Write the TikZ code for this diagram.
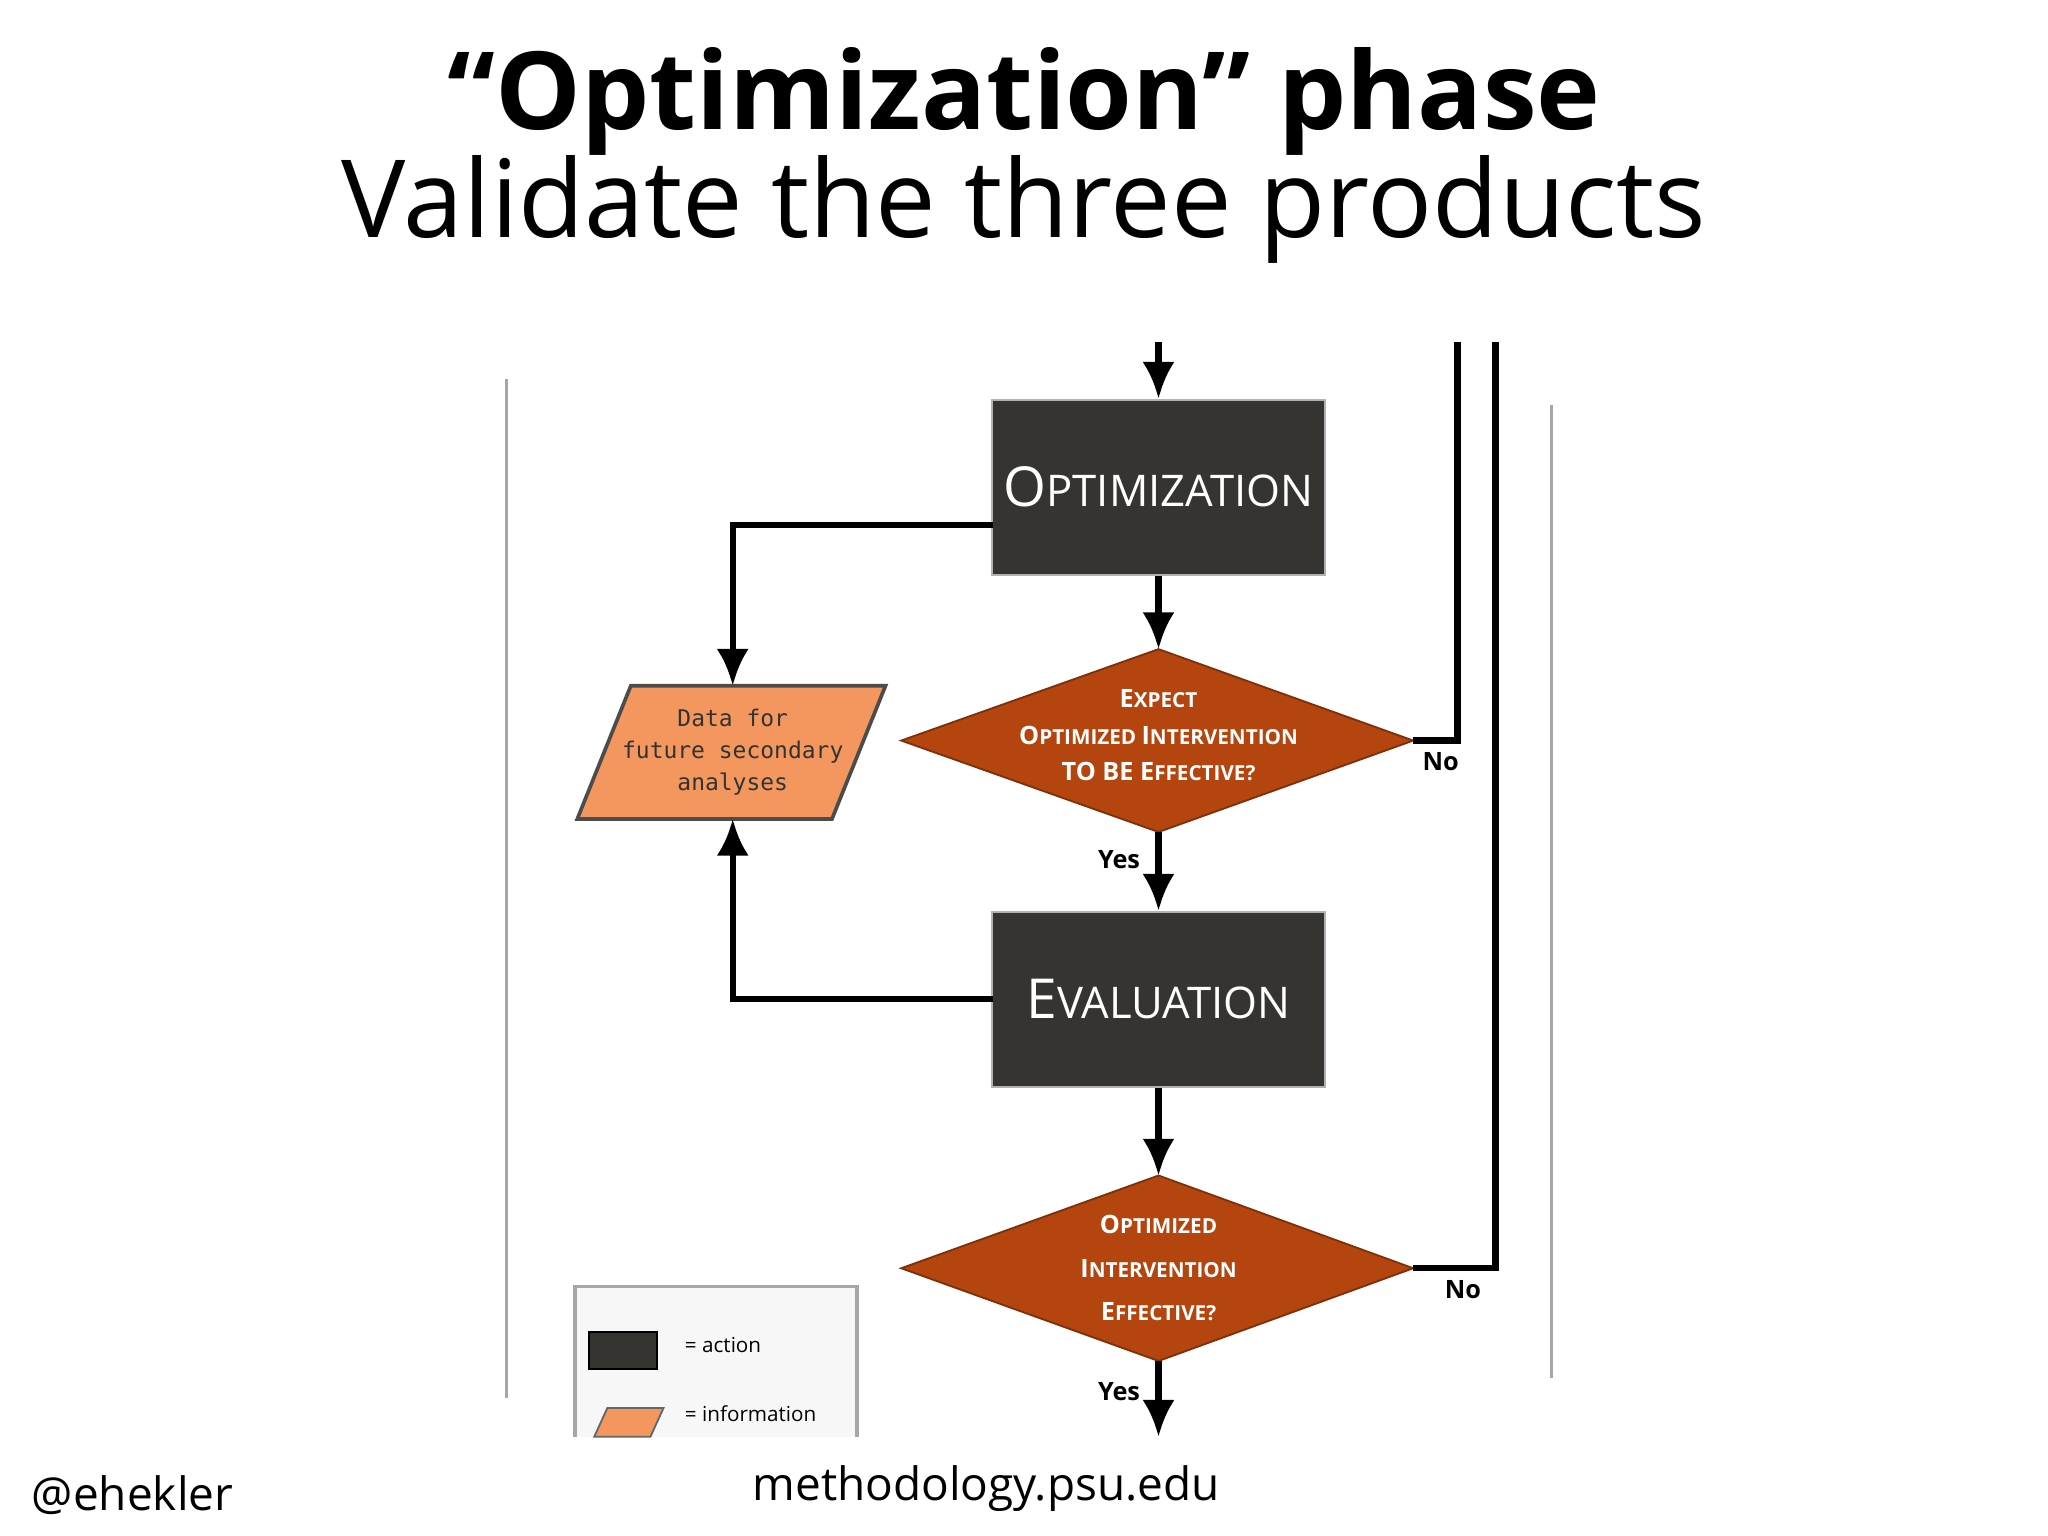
\documentclass[tikz,border=0pt]{standalone}
\usepackage{fontspec}
\setmainfont{Open Sans}
\newfontfamily\monof{DejaVu Sans Mono}
\usetikzlibrary{shapes.geometric,arrows.meta}
\definecolor{actfill}{HTML}{353431}
\definecolor{decfill}{HTML}{B4450E}
\definecolor{infofill}{HTML}{F4975F}
\begin{document}
\begin{tikzpicture}[x=0.01cm,y=-0.01cm,
  action/.style={fill=actfill,draw=gray!60,minimum width=2.55cm,minimum height=1.34cm,inner sep=0pt,text=white,font=\fontsize{12}{14}\selectfont},
  dshape/.style={fill=decfill,draw=decfill!70!black},
  dtext/.style={text=white,align=center,font=\bfseries\fontsize{5.5}{8}\selectfont},
  conn/.style={line width=1.4pt},
  arr/.style={conn,-{Latex[length=8pt,width=7pt]}},
  lbl/.style={font=\bfseries\fontsize{5.5}{6}\selectfont}]
\useasboundingbox (0,0) rectangle (1568,1176);
\fill[white] (0,0) rectangle (1568,1176);
% titles
\node (t1) at (784,78) {\bfseries\fontsize{23.5}{26}\selectfont “Optimization” phase};
\node (t2) at (784,160) {\fontsize{23.5}{26}\selectfont Validate the three products};
% frame
\draw[gray!70,line width=0.6pt] (388,290) -- (388,1070);
\draw[gray!70,line width=0.6pt] (1188,310) -- (1188,1055);
% action nodes
\node[action] (opt) at (887,373) {O\fontsize{9.5}{12}\selectfont PTIMIZATION};
\node[action] (ev) at (887,765) {E\fontsize{9.5}{12}\selectfont VALUATION};
% decision 1
\filldraw[dshape] (887,497) -- (1082,567) -- (887,637) -- (690,567) -- cycle;
\coordinate (d1n) at (887,497); \coordinate (d1s) at (887,637); \coordinate (d1e) at (1082,567);
\node[dtext] (d1) at (887,563) {E\fontsize{4.5}{8}\selectfont XPECT\\\fontsize{5.5}{8}\selectfont O\fontsize{4.5}{8}\selectfont PTIMIZED \fontsize{5.5}{8}\selectfont I\fontsize{4.5}{8}\selectfont NTERVENTION\\ TO BE \fontsize{5.5}{8}\selectfont E\fontsize{4.5}{8}\selectfont FFECTIVE?};
% decision 2
\filldraw[dshape] (887,900) -- (1082,971) -- (887,1042) -- (690,971) -- cycle;
\coordinate (d2n) at (887,900); \coordinate (d2s) at (887,1042); \coordinate (d2e) at (1082,971);
\node[dtext,font=\bfseries\fontsize{5.5}{9.5}\selectfont] (d2) at (887,971) {O\fontsize{4.5}{9.5}\selectfont PTIMIZED\\\fontsize{5.5}{9.5}\selectfont I\fontsize{4.5}{9.5}\selectfont NTERVENTION\\\fontsize{5.5}{9.5}\selectfont E\fontsize{4.5}{9.5}\selectfont FFECTIVE?};
% parallelogram
\filldraw[fill=infofill,draw=black!70,line width=0.8pt] (442,627) -- (483,525) -- (678,525) -- (637,627) -- cycle;
\coordinate (ptop) at (561,525);
\coordinate (pbot) at (561,627);
\node[align=center,font=\monof\fontsize{5}{7}\selectfont,text=black!80] (info) at (561,576) {Data for\\future secondary\\analyses};
% connectors
\coordinate (in) at (887,262);
\coordinate (optw) at (760,402);
\coordinate (evw) at (760,765);
\draw[arr] (in) -- (opt.north);
\draw[arr] (opt.south) -- (d1n);
\draw[arr] (optw) -| (ptop);
\draw[arr] (d1s) -- node[lbl,left,pos=0.35] {Yes} (ev.north);
\draw[arr] (evw) -| (pbot);
\draw[arr] (ev.south) -- (d2n);
\coordinate (n1) at (1116,262);
\draw[conn] (d1e) -| (n1);
\node[lbl] (no1) at (1103,583) {No};
\coordinate (n2) at (1145,262);
\draw[conn] (d2e) -| (n2);
\node[lbl] (no2) at (1120,987) {No};
\coordinate (out) at (887,1100);
\draw[arr] (d2s) -- node[lbl,left,pos=0.4] {Yes} (out);
% legend
\draw[gray!70,line width=0.8pt,fill=gray!6] (440,1100) -- (440,985) -- (656,985) -- (656,1100);
\filldraw[fill=actfill,draw=black] (451,1020) rectangle (503,1048);
\node[anchor=west,font=\fontsize{4.5}{6}\selectfont] (la) at (512,1030) {= action};
\filldraw[fill=infofill,draw=black!60] (455,1100) -- (465,1078) -- (508,1078) -- (498,1100) -- cycle;
\node[anchor=west,font=\fontsize{4.5}{6}\selectfont] (li) at (512,1082) {= information};
% footer
\node[anchor=west] (f1) at (12,1145) {\fontsize{10}{12}\selectfont @ehekler};
\node (f2) at (755,1140) {\fontsize{10}{12}\selectfont methodology.psu.edu};
\end{tikzpicture}
\end{document}
